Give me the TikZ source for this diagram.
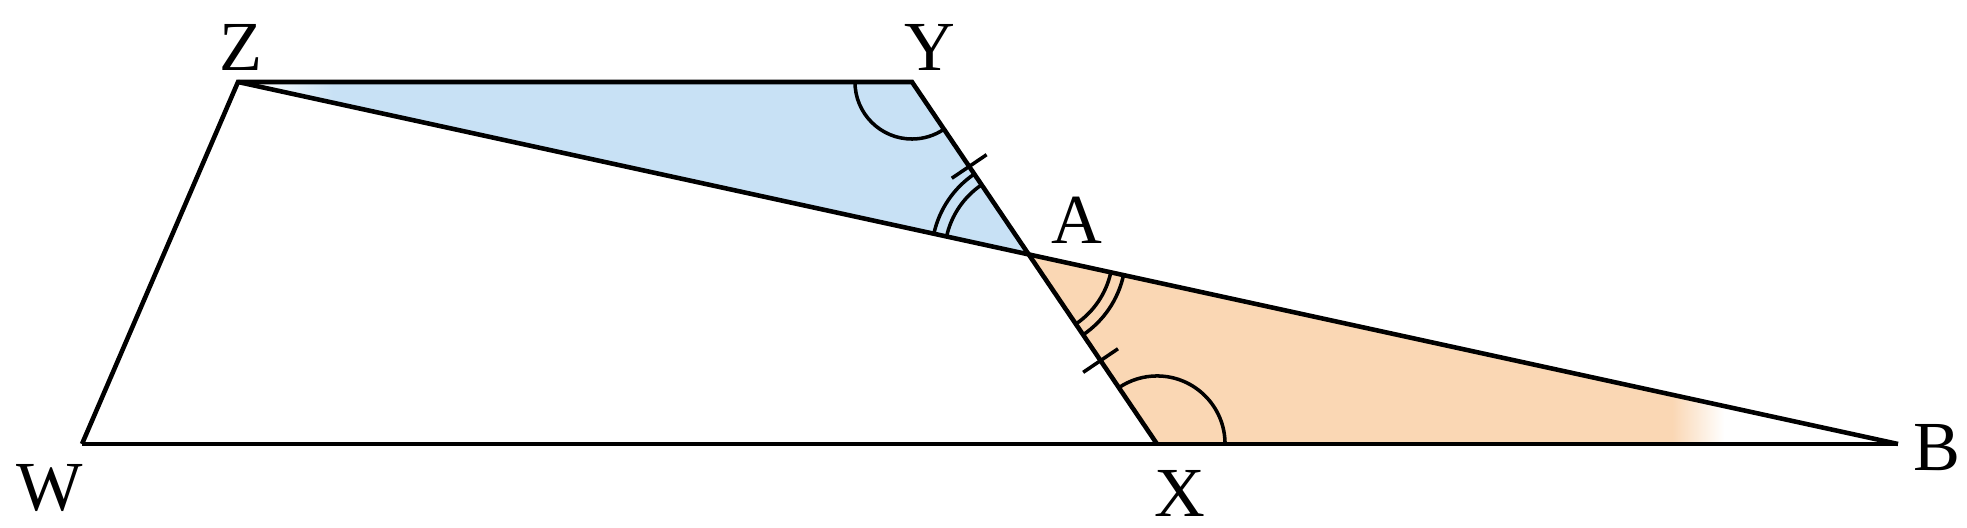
\documentclass[tikz,border=0pt]{standalone}
\usepackage{fontspec}
\setmainfont{Liberation Serif}
\usetikzlibrary{angles,calc}
\definecolor{triblue}{RGB}{200,225,245}
\definecolor{triorange}{RGB}{250,215,180}
\pgfdeclarehorizontalshading{bluefade}{100bp}{color(0bp)=(white); color(26bp)=(white); color(31bp)=(triblue); color(100bp)=(triblue)}
\pgfdeclarehorizontalshading{orangefade}{100bp}{color(0bp)=(triorange); color(62bp)=(triorange); color(65bp)=(white); color(100bp)=(white)}
\begin{document}
\begin{tikzpicture}[x=0.01cm, y=0.01cm, line width=1.3pt]
		\tikzset{lbl/.style={font=\fontsize{20}{24}\selectfont, inner sep=0pt},
			arcmark/.style={draw, line width=1pt}};
		\useasboundingbox (0,0) rectangle (1967,528);

		\coordinate (W) at (82, 84);
		\coordinate (X) at (1157, 84);
		\coordinate (B) at (1898, 84);
		\coordinate (Z) at (238, 446);
		\coordinate (Y) at (912, 446);
		\coordinate (A) at (intersection of Z--B and Y--X);

		\shade[shading=bluefade] (Z) -- (Y) -- (A) -- cycle;
		\shade[shading=orangefade] (A) -- (X) -- (B) -- cycle;

		\draw (W) -- (B);
		\draw (W) -- (Z) -- (Y) -- (X);
		\draw (Z) -- (B);

		\pic[arcmark, angle radius=0.57cm] {angle=Z--Y--A};
		\pic[arcmark, angle radius=0.68cm] {angle=B--X--A};
		\pic[arcmark, angle radius=0.84cm] {angle=Y--A--Z};
		\pic[arcmark, angle radius=0.97cm] {angle=Y--A--Z};
		\pic[arcmark, angle radius=0.84cm] {angle=X--A--B};
		\pic[arcmark, angle radius=0.97cm] {angle=X--A--B};

		\coordinate (t1) at ($(Y)!0.49!(A)$);
		\coordinate (t2) at ($(A)!0.56!(X)$);
		\draw[line width=1pt] ($(t1)!0.21cm!90:(A)$) -- ($(t1)!0.21cm!-90:(A)$);
		\draw[line width=1pt] ($(t2)!0.21cm!90:(X)$) -- ($(t2)!0.21cm!-90:(X)$);

		\node[lbl] (lz) at (241, 481) {Z};
		\node[lbl] (ly) at (930, 481) {Y};
		\node[lbl] (la) at (1077, 308) {A};
		\node[lbl] (lw) at (50, 40) {W};
		\node[lbl] (lx) at (1180, 35) {X};
		\node[lbl] (lb) at (1937, 80) {B};
	\end{tikzpicture}
\end{document}
